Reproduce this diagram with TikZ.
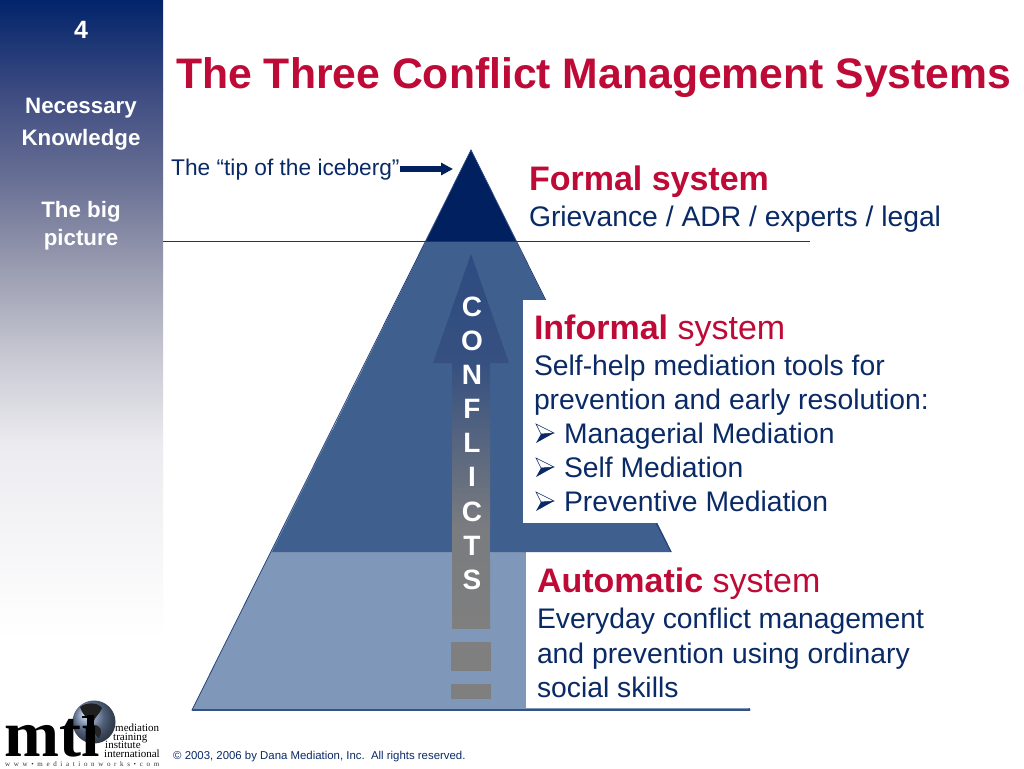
\documentclass[tikz,border=0pt]{standalone}
\usepackage{fontspec}
\setmainfont{Liberation Sans}
\newfontfamily\lserif{Liberation Serif}
\usetikzlibrary{arrows.meta,shadings}
\definecolor{navy}{HTML}{002060}
\definecolor{navytext}{HTML}{0A2A66}
\definecolor{midblue}{HTML}{3F5F8F}
\definecolor{lowblue}{HTML}{7F97B9}
\definecolor{crimson}{HTML}{BE0A36}
\definecolor{arrowtop}{HTML}{2E4B80}
\definecolor{barend}{HTML}{7F7F7F}
\definecolor{sa}{HTML}{02246B}
\definecolor{sb}{HTML}{3B4A80}
\definecolor{sc}{HTML}{686F94}
\definecolor{sd}{HTML}{9A9CB0}
\definecolor{se}{HTML}{C8C9D3}
\definecolor{sf}{HTML}{ECECF0}
\definecolor{globe}{HTML}{7288AC}
\tikzset{
  txt/.style={anchor=base west,inner sep=0pt,outer sep=0pt,text=navytext,font=\fontsize{28.3}{28.3}\selectfont},
  head/.style={anchor=base west,inner sep=0pt,outer sep=0pt,font=\fontsize{34}{34}\selectfont,text=crimson},
  side/.style={anchor=base,inner sep=0pt,outer sep=0pt,text=white,font=\bfseries\fontsize{22.3}{22.3}\selectfont},
  logosmall/.style={anchor=base west,inner sep=0pt,text=black,font=\lserif\fontsize{11}{11}\selectfont},
  edge/.style={draw=navy!85!white,line width=0.8pt},
  bulletmark/.pic={
    \draw[navytext,line width=0.5pt,fill=white] (0,0) -- (18,9) -- (5,10) -- cycle;
    \fill[navytext] (5,10) -- (18,9) -- (0,19) -- cycle;
  },
}
\begin{document}
\begin{tikzpicture}[x=1pt,y=-1pt]
\useasboundingbox (0,0) rectangle (1024,768);
\fill[white] (0,0) rectangle (1024,768);
% sidebar
\shade[top color=sa,bottom color=sb] (0,0) rectangle (163,89.5);
\shade[top color=sb,bottom color=sc] (0,89) rectangle (163,178.5);
\shade[top color=sc,bottom color=sd] (0,178) rectangle (163,268.5);
\shade[top color=sd,bottom color=se] (0,268) rectangle (163,357.5);
\shade[top color=se,bottom color=sf] (0,357) rectangle (163,446.5);
\shade[top color=sf,bottom color=white] (0,446) rectangle (163,640);
% iceberg
\fill[lowblue] (192,710) -- (332,430) -- (610,430) -- (750,710) -- cycle;
\fill[midblue] (426,241) -- (516,241) -- (671,552) -- (272,552) -- cycle;
\fill[navy] (471,150) -- (516,241) -- (426,241) -- cycle;
\draw[edge] (471,150) -- (750,710) -- (192,710) -- cycle;
% white text panels
\fill[white] (523,300) rectangle (760,523);
\fill[white] (526,552) rectangle (760,708);
\fill[white] (750,300) rectangle (1024,708);
\fill[midblue] (523,523) -- (656,523) -- (671,552) -- (523,552) -- cycle;
\draw[edge] (656,523) -- (671,552);
\draw[midblue!80!navy,line width=1.6pt] (192,710) -- (750,710);
% waterline
\coordinate (wl) at (163,241);
\coordinate (wr) at (810,241);
\draw[navy!90!white,line width=1pt] (wl) -- (wr);
% conflicts arrow
\shade[top color=arrowtop,bottom color=arrowtop!90!barend] (471,254) -- (509,363) -- (433,363) -- cycle;
\shade[top color=arrowtop!90!barend,bottom color=barend!95!arrowtop] (452,363) rectangle (490,530);
\fill[barend!95!arrowtop] (452,529) rectangle (490,560);
\shade[top color=barend!95!arrowtop,bottom color=barend] (452,559) rectangle (490,628);
\fill[barend] (451,642) rectangle (491,671);
\fill[barend] (451,684) rectangle (491,699);
\foreach \ch/\yy/\nm in {C/316/a,O/350/b,N/384/c,F/418/d,L/452/e,I/486/f,C/521/g,T/555/h,S/589/i}
  \node[anchor=base,inner sep=0pt,text=white,font=\bfseries\fontsize{28}{28}\selectfont] (conf\nm) at (472,\yy) {\ch};
% title
\node[anchor=base west,inner sep=0pt,text=crimson,font=\bfseries\fontsize{42.7}{42.7}\selectfont] (title) at (176,88) {The Three Conflict Management Systems};
% sidebar text
\node[side,font=\bfseries\fontsize{25}{25}\selectfont] (num) at (81,39) {4};
\node[side] (s1) at (81,113) {Necessary};
\node[side] (s2) at (81,145) {Knowledge};
\node[side] (s3) at (81,217) {The big};
\node[side] (s4) at (81,245) {picture};
% tip label
\node[anchor=base west,inner sep=0pt,text=navytext,font=\fontsize{22.7}{22.7}\selectfont] (tip) at (171,175) {The “tip of the iceberg”};
\coordinate (tipend) at (453,169);
\draw[navy,line width=5.5pt,-{Triangle[length=12pt,width=12pt]}] (tip.east |- tipend) -- (tipend);
% formal
\node[head,font=\bfseries\fontsize{34}{34}\selectfont] (f1) at (529,190) {Formal system};
\node[txt] (f2) at (529,226) {Grievance / ADR / experts / legal};
% informal
\node[head] (i1) at (534,339) {\textbf{Informal} system};
\node[txt] (i2) at (534,375) {Self-help mediation tools for};
\node[txt] (i3) at (534,409) {prevention and early resolution:};
\pic at (536,424) {bulletmark};
\pic at (536,458) {bulletmark};
\pic at (536,492) {bulletmark};
\node[txt] (i4) at (564,443) {Managerial Mediation};
\node[txt] (i5) at (564,477) {Self Mediation};
\node[txt] (i6) at (564,511) {Preventive Mediation};
% automatic
\node[head] (a1) at (537,592) {\textbf{Automatic} system};
\node[txt] (a2) at (537,628) {Everyday conflict management};
\node[txt] (a3) at (537,663) {and prevention using ordinary};
\node[txt] (a4) at (537,697) {social skills};
% logo
\shade[ball color=globe] (94,722) circle (21.5);
\begin{scope}
\clip (94,722) circle (21.5);
\fill[black!88] (80,707) .. controls (86,702) and (98,702) .. (102,708) .. controls (100,714) and (95,716) .. (93,723) .. controls (88,720) and (82,714) .. (80,707) -- cycle;
\fill[black!85] (93,725) .. controls (99,724) and (104,730) .. (99,738) .. controls (95,736) and (93,730) .. (93,725) -- cycle;
\end{scope}
\node[anchor=base west,inner sep=0pt,text=black,font=\lserif\bfseries\fontsize{66}{66}\selectfont] (mti) at (4,756) {mt\char"0131};
\fill[black] (86.5,715) rectangle (94,730);
\fill[black] (82,716) rectangle (87,718);
\node[logosmall] (l1) at (115,731.5) {mediation};
\node[logosmall] (l2) at (113,740) {training};
\node[logosmall] (l3) at (105,748.5) {institute};
\node[logosmall] (l4) at (104,757) {international};
\node[anchor=base west,inner sep=0pt,text=black!80,font=\lserif\fontsize{7}{7}\selectfont] (l5) at (5,766) {\makebox[154pt][s]{w\hfil w\hfil w\hfil •\hfil m\hfil e\hfil d\hfil i\hfil a\hfil t\hfil i\hfil o\hfil n\hfil w\hfil o\hfil r\hfil k\hfil s\hfil •\hfil c\hfil o\hfil m}};
% copyright
\node[anchor=base west,inner sep=0pt,text=navytext,font=\fontsize{11.4}{11.4}\selectfont] (copy) at (173,759) {© 2003, 2006 by Dana Mediation, Inc.\ \ All rights reserved.};
\end{tikzpicture}
\end{document}
